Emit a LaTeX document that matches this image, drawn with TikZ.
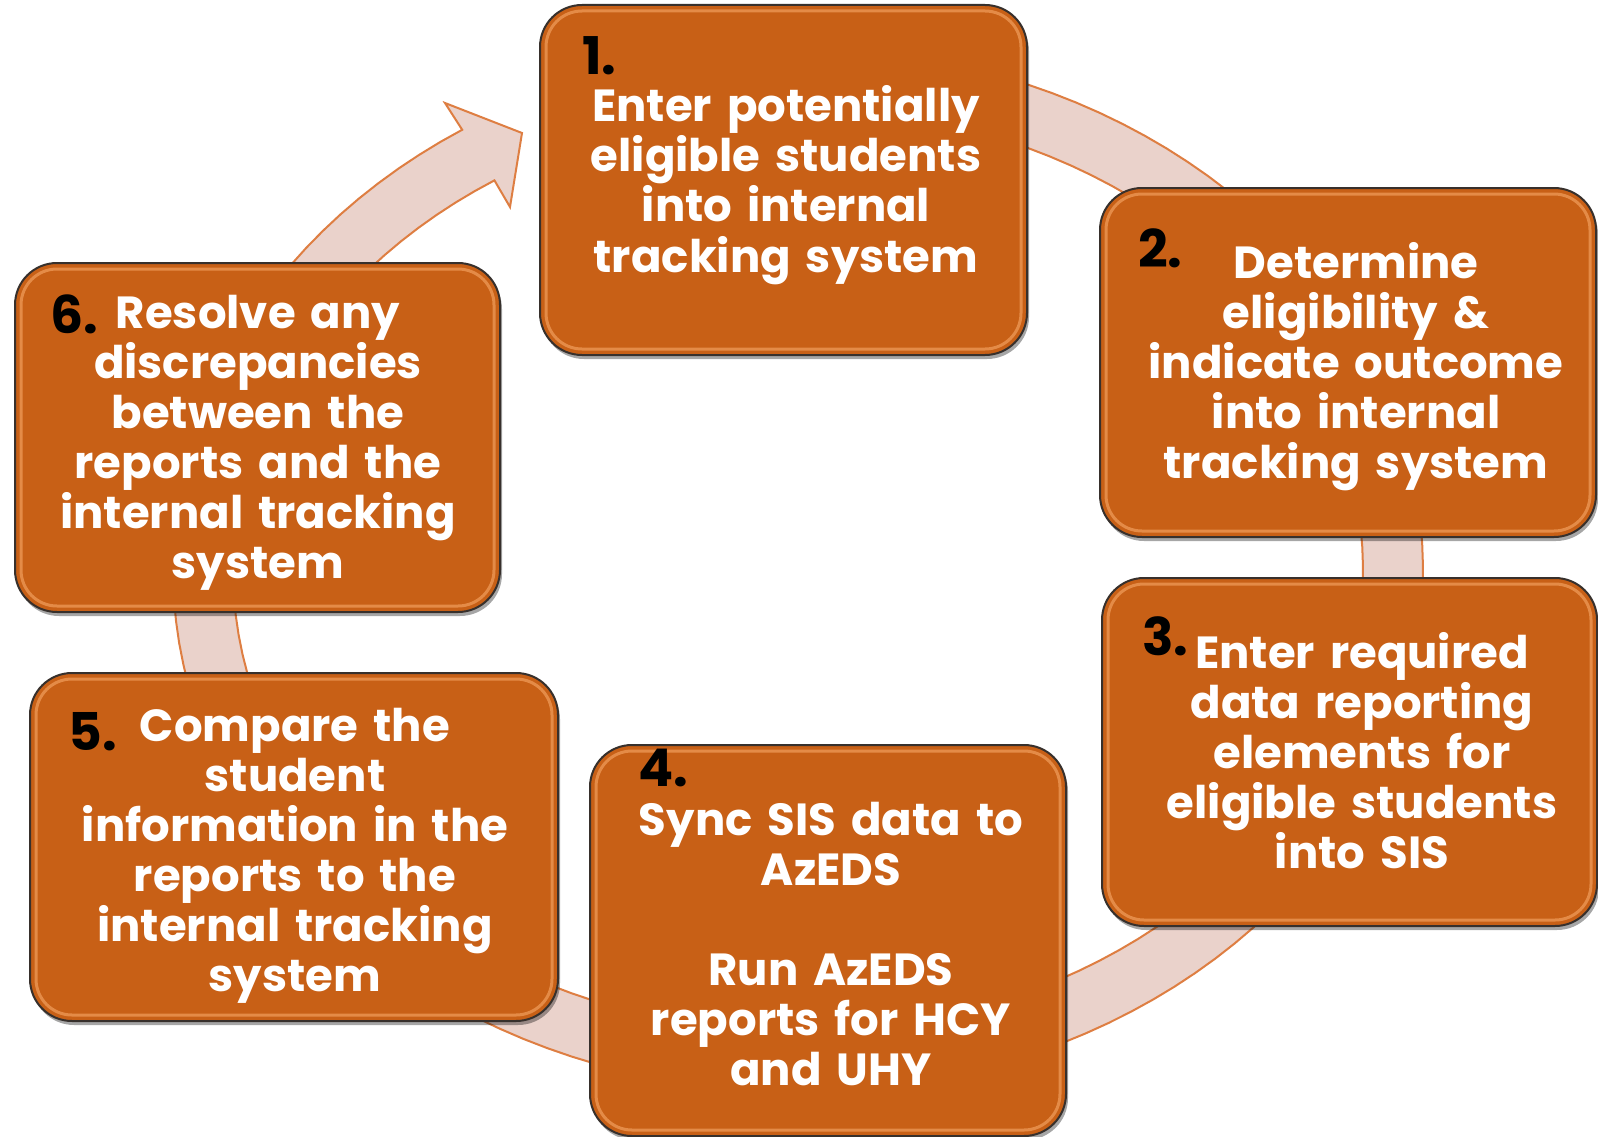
\documentclass[tikz,border=0pt]{standalone}
\usepackage{fontspec}
\setmainfont{Poppins}
\usetikzlibrary{positioning,calc,shadows}

\definecolor{boxfill}{RGB}{200,96,22}
\definecolor{boxedge}{RGB}{55,48,44}
\definecolor{boxglow}{RGB}{247,168,104}
\definecolor{ringfill}{RGB}{234,210,203}
\definecolor{ringedge}{RGB}{222,126,66}

\begin{document}
\begin{tikzpicture}[x=1pt,y=-1pt,
    stepbox/.style={draw=boxedge,line width=2pt,fill=boxfill,rounded corners=42pt,inner sep=0pt,
      drop shadow={shadow xshift=2pt,shadow yshift=-4pt,opacity=.35,fill=black}},
    boxshine/.style={draw=boxglow,line width=3pt,opacity=.6,rounded corners=36pt},
    steptext/.style={text=white,font=\bfseries\fontsize{45}{50}\selectfont,align=center,
      text width=500pt,anchor=base,inner sep=0pt},
    stepnum/.style={text=black,font=\bfseries\fontsize{52}{52}\selectfont,anchor=base west,inner sep=0pt},
    ring/.style={fill=ringfill,draw=ringedge,line width=2pt}]

  \fill[white] (0,0) rectangle (1598,1137);
  \useasboundingbox (0,0) rectangle (1598,1137);

  \draw[ring] plot[domain=260:597.5,samples=140] ({798+625*cos(\x)},{570+522*sin(\x)})
    -- (445,103) -- (522,133) -- (510,207)
    -- plot[domain=597.5:260,samples=140] ({798+565*cos(\x)},{570+462*sin(\x)}) -- cycle;

  \node[stepbox,minimum width=487pt,minimum height=350pt] (b1) at (783.5,180) {};
  \node[stepbox,minimum width=496pt,minimum height=349pt] (b2) at (1348,362.5) {};
  \node[stepbox,minimum width=495pt,minimum height=348pt] (b3) at (1349.5,752) {};
  \node[stepbox,minimum width=476pt,minimum height=391pt] (b4) at (828,940.5) {};
  \node[stepbox,minimum width=528pt,minimum height=348pt] (b5) at (294,847) {};
  \node[stepbox,minimum width=485pt,minimum height=349pt] (b6) at (257.5,437.5) {};

  \foreach \b in {b1,b2,b3,b4,b5,b6}
    \draw[boxshine] ([shift={(7,7)}]\b.north west) rectangle ([shift={(-7,-7)}]\b.south east);

  \node[stepnum] (n1) at (582,75) {1.};
  \node[steptext] (t1) at (786,122) {Enter potentially\\eligible students\\into internal\\tracking system};

  \node[stepnum] (n2) at (1138,267) {2.};
  \node[steptext] (t2) at (1356,278) {Determine\\eligibility \&\\indicate outcome\\into internal\\tracking system};

  \node[stepnum] (n3) at (1142,655) {3.};
  \node[steptext] (t3) at (1362,668) {Enter required\\data reporting\\elements for\\eligible students\\into SIS};

  \node[stepnum] (n4) at (638,786) {4.};
  \node[steptext] (t4) at (831,835) {Sync SIS data to\\AzEDS\\[50pt]Run AzEDS\\reports for HCY\\and UHY};

  \node[stepnum] (n5) at (68,750) {5.};
  \node[steptext] (t5) at (295,741) {Compare the\\student\\information in the\\reports to the\\internal tracking\\system};

  \node[stepnum] (n6) at (50,333) {6.};
  \node[steptext] (t6) at (258,328) {Resolve any\\discrepancies\\between the\\reports and the\\internal tracking\\system};
\end{tikzpicture}
\end{document}
